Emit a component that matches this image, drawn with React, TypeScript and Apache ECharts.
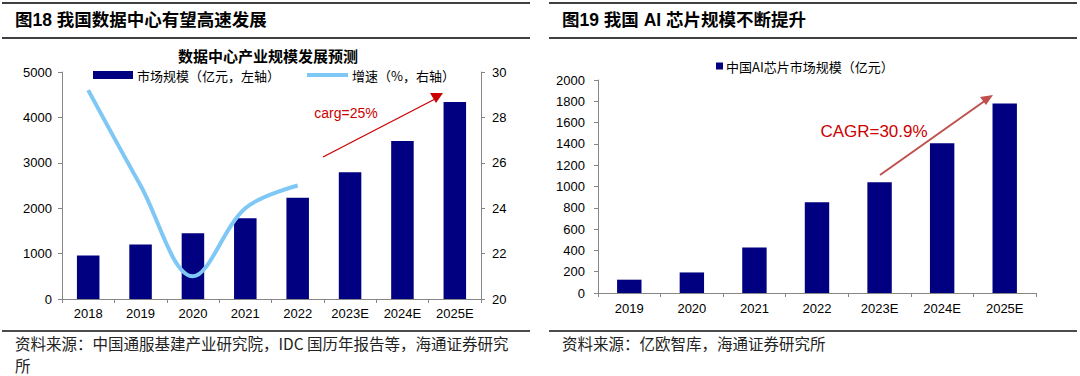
import React, { useEffect, useRef } from "react";
import * as echarts from "echarts";

const dcYears = ["2018", "2019", "2020", "2021", "2022", "2023E", "2024E", "2025E"];
const dcMarket = [960, 1200, 1450, 1780, 2230, 2790, 3480, 4340];
const dcGrowth: (number | null)[] = [29.2, 25.0, 21.0, 24.0, 25.0, null, null, null];
const dcLeftTicks = { min: 0, max: 5000, interval: 1000 };
const dcRightTicks = { min: 20, max: 30, interval: 2 };

const aiYears = ["2019", "2020", "2021", "2022", "2023E", "2024E", "2025E"];
const aiMarket = [125, 193, 428, 853, 1040, 1405, 1780];
const aiTicks = { min: 0, max: 2000, interval: 200 };

const NAVY = "#000080";
const SKY = "#7fc7f5";
const AXIS = "#868686";
const FONT = "'Liberation Sans', Arial, 'Noto Sans CJK SC', sans-serif";
const CJK = "'Noto Sans CJK SC', 'Liberation Sans', sans-serif";

function txt(x: number, y: number, text: string, size: number, opts: any = {}) {
  return {
    type: "text",
    x,
    y,
    silent: true,
    style: {
      text,
      fill: opts.fill || "#000",
      fontSize: size,
      fontFamily: opts.family || FONT,
      fontWeight: opts.weight || "normal",
      align: opts.align || "left",
      verticalAlign: "middle",
    },
  };
}

function hline(x1: number, x2: number, y: number, w: number, color: string) {
  return {
    type: "line",
    silent: true,
    shape: { x1, y1: y, x2, y2: y },
    style: { stroke: color, lineWidth: w },
  };
}

const axisCommon = {
  axisLine: { show: true, lineStyle: { color: AXIS, width: 1 } },
  axisTick: { show: true, length: 4, lineStyle: { color: AXIS } },
  splitLine: { show: false },
};

const plain = (v: number) => String(v);

export default function App() {
  const ref = useRef<HTMLDivElement>(null);
  useEffect(() => {
    if (!ref.current) return;
    const chart = echarts.init(ref.current, undefined, { renderer: "svg" });
    const option: any = {
      animation: false,
      backgroundColor: "#fff",
      grid: [
        { left: 62, right: 1080 - 481, top: 72, bottom: 376 - 299 },
        { left: 598, right: 1080 - 1036, top: 80, bottom: 376 - 293 },
      ],
      xAxis: [
        {
          type: "category",
          gridIndex: 0,
          data: dcYears,
          ...axisCommon,
          axisTick: { ...axisCommon.axisTick, interval: 0 },
          axisLabel: { color: "#000", fontSize: 13, fontFamily: FONT, margin: 8, interval: 0 },
        },
        {
          type: "category",
          gridIndex: 1,
          data: aiYears,
          ...axisCommon,
          axisTick: { ...axisCommon.axisTick, interval: 0 },
          axisLabel: { color: "#000", fontSize: 13, fontFamily: FONT, margin: 9, interval: 0 },
        },
      ],
      yAxis: [
        {
          type: "value",
          gridIndex: 0,
          ...dcLeftTicks,
          ...axisCommon,
          axisLabel: { color: "#000", fontSize: 13, fontFamily: FONT, margin: 10, formatter: plain },
        },
        {
          type: "value",
          gridIndex: 0,
          position: "right",
          ...dcRightTicks,
          ...axisCommon,
          axisLabel: { color: "#000", fontSize: 13, fontFamily: FONT, margin: 11, formatter: plain },
        },
        {
          type: "value",
          gridIndex: 1,
          ...aiTicks,
          ...axisCommon,
          axisLabel: { color: "#000", fontSize: 13, fontFamily: FONT, margin: 13, formatter: plain },
        },
      ],
      series: [
        {
          name: "市场规模（亿元，左轴）",
          type: "bar",
          xAxisIndex: 0,
          yAxisIndex: 0,
          data: dcMarket,
          barWidth: "43%",
          itemStyle: { color: NAVY },
        },
        {
          name: "增速（%，右轴）",
          type: "line",
          xAxisIndex: 0,
          yAxisIndex: 1,
          data: dcGrowth,
          smooth: 0.35,
          symbol: "none",
          connectNulls: false,
          lineStyle: { color: SKY, width: 4 },
          itemStyle: { color: SKY },
          z: 3,
        },
        {
          name: "中国AI芯片市场规模（亿元）",
          type: "bar",
          xAxisIndex: 1,
          yAxisIndex: 2,
          data: aiMarket,
          barWidth: "39%",
          itemStyle: { color: NAVY },
        },
      ],
      graphic: [
        // header rules
        hline(2, 530, 3, 2, "#404040"),
        hline(549, 1077, 3, 2, "#404040"),
        hline(2, 530, 38, 2, "#404040"),
        hline(549, 1077, 38, 2, "#404040"),
        hline(2, 530, 331, 1.5, "#111"),
        hline(549, 1077, 331, 1.5, "#111"),
        // headers
        txt(15, 20, "图18 我国数据中心有望高速发展", 17.5, { weight: "bold" }),
        txt(562, 20, "图19 我国 AI 芯片规模不断提升", 17.5, { weight: "bold" }),
        // left chart title
        txt(268, 55, "数据中心产业规模发展预测", 15, { weight: "bold", align: "center", family: CJK }),
        // left legend
        { type: "rect", silent: true, shape: { x: 93, y: 71, width: 40, height: 8 }, style: { fill: NAVY } },
        txt(137, 75, "市场规模（亿元，左轴）", 13, { family: CJK }),
        { type: "line", silent: true, shape: { x1: 307, y1: 75, x2: 348, y2: 75 }, style: { stroke: SKY, lineWidth: 4 } },
        txt(352, 75, "增速（%，右轴）", 13, { family: CJK }),
        // left annotation
        { type: "line", silent: true, shape: { x1: 323, y1: 157, x2: 437, y2: 98 }, style: { stroke: "#cc0000", lineWidth: 1.3 } },
        { type: "polygon", silent: true, shape: { points: [[430, 93], [443, 93], [436, 103]] }, style: { fill: "#cc0000" } },
        txt(346, 113, "carg=25%", 14, { fill: "#cc0000", align: "center" }),
        // right legend
        { type: "rect", silent: true, shape: { x: 716, y: 62.5, width: 7, height: 7 }, style: { fill: NAVY } },
        txt(726, 66, "中国AI芯片市场规模（亿元）", 13, { family: CJK }),
        // right annotation
        { type: "line", silent: true, shape: { x1: 880, y1: 175, x2: 986, y2: 100 }, style: { stroke: "#c0504d", lineWidth: 2 } },
        { type: "polygon", silent: true, shape: { points: [[993, 95], [980, 97], [986, 105]] }, style: { fill: "#c0504d" } },
        txt(874, 131, "CAGR=30.9%", 17, { fill: "#cc0000", align: "center" }),
        // sources
        txt(15, 343, "资料来源：中国通服基建产业研究院，IDC 国历年报告等，海通证券研究", 15.5, { fill: "#222", family: CJK }),
        txt(15, 365, "所", 15.5, { fill: "#222", family: CJK }),
        txt(562, 343, "资料来源：亿欧智库，海通证券研究所", 15.5, { fill: "#222", family: CJK }),
      ],
    };
    chart.setOption(option);
    return () => chart.dispose();
  }, []);
  return (
    <div
      ref={ref}
      style={{ position: "absolute", left: 0, top: 0, width: 1080, height: 376, background: "#fff" }}
    />
  );
}
